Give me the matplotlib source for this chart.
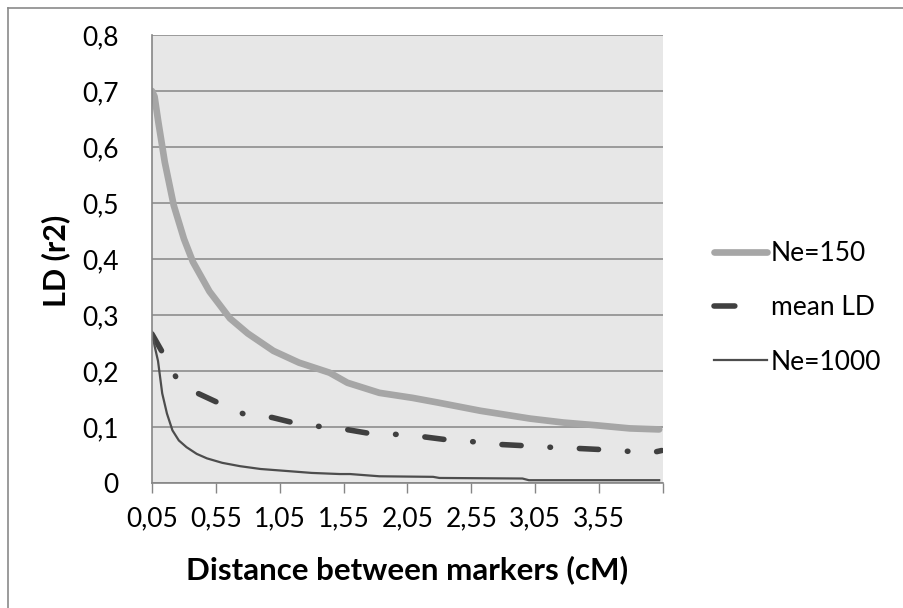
import matplotlib
matplotlib.use('Agg')
import matplotlib.pyplot as plt
from matplotlib.lines import Line2D

plt.rcParams['font.family'] = ['Lato', 'DejaVu Sans']
plt.rcParams['lines.scale_dashes'] = False

# values
dist_150 = [0.05, 0.07, 0.10, 0.15, 0.22, 0.30, 0.37, 0.50, 0.66, 0.80, 1.00,
            1.20, 1.32, 1.44, 1.58, 1.83, 2.09, 2.28, 2.62, 3.01, 3.27, 3.53,
            3.79, 4.02]
ld_150 = [0.70, 0.69, 0.644, 0.573, 0.496, 0.436, 0.395, 0.342, 0.294, 0.267,
          0.236, 0.215, 0.206, 0.197, 0.179, 0.161, 0.152, 0.144, 0.129, 0.115,
          0.108, 0.103, 0.0975, 0.0957]

dist_mean = [0.05, 0.14, 0.245, 0.41, 0.58, 0.78, 0.99, 1.15, 1.36, 1.56, 1.74,
             1.95, 2.16, 2.33, 2.55, 2.76, 2.93, 3.15, 3.36, 3.54, 3.75, 3.96,
             4.04]
ld_mean = [0.266, 0.23, 0.186, 0.16, 0.142, 0.122, 0.117, 0.108, 0.101, 0.096,
           0.089, 0.087, 0.083, 0.078, 0.074, 0.069, 0.067, 0.064, 0.062, 0.060,
           0.057, 0.054, 0.058]

dist_1000 = [0.05, 0.07, 0.097, 0.13, 0.167, 0.21, 0.26, 0.32, 0.40, 0.48, 0.60,
             0.74, 0.90, 1.13, 1.30, 1.52, 1.60, 1.83, 2.25, 2.30, 2.95, 3.00,
             4.02]
ld_1000 = [0.27, 0.245, 0.218, 0.16, 0.124, 0.094, 0.076, 0.064, 0.052, 0.044,
           0.036, 0.030, 0.025, 0.021, 0.018, 0.016, 0.016, 0.012, 0.011, 0.009,
           0.008, 0.005, 0.005]

x_ticks = [0.05, 0.55, 1.05, 1.55, 2.05, 2.55, 3.05, 3.55, 4.05]
x_tick_labels = ['0,05', '0,55', '1,05', '1,55', '2,05', '2,55', '3,05', '3,55', '']
y_ticks = [0, 0.1, 0.2, 0.3, 0.4, 0.5, 0.6, 0.7, 0.8]
y_tick_labels = ['0', '0,1', '0,2', '0,3', '0,4', '0,5', '0,6', '0,7', '0,8']

fig = plt.figure(figsize=(9.04, 6.08), dpi=100)
ax = fig.add_axes([152 / 904, 1 - 483 / 608, 511 / 904, 448 / 608])
ax.set_facecolor('#e7e7e7')

ax.plot(dist_150, ld_150, color='#a6a6a6', lw=4.8,
        solid_capstyle='round', solid_joinstyle='round')
ax.plot(dist_mean, ld_mean, color='#404040', lw=4.0,
        linestyle=(0, (13.8, 20.8, 0.4, 20.8)), dash_capstyle='round')
ax.plot(dist_1000, ld_1000, color='#4d4d4d', lw=1.6)

ax.set_xlim(0.05, 4.05)
ax.set_ylim(0, 0.8)
ax.set_xticks(x_ticks)
ax.set_xticklabels(x_tick_labels)
ax.set_yticks(y_ticks)
ax.set_yticklabels(y_tick_labels)
ax.tick_params(axis='x', length=7, width=1.0, color='#868686', pad=10,
               labelsize=19, direction='out')
ax.tick_params(axis='y', length=0, pad=24, labelsize=19)
ax.yaxis.grid(True, color='#868686', lw=1.1)
ax.set_axisbelow(True)
for s in ['top', 'right']:
    ax.spines[s].set_visible(False)
for s in ['left', 'bottom']:
    ax.spines[s].set_color('#868686')
    ax.spines[s].set_linewidth(1.2)

fig.text(407.5 / 904, 1 - 570 / 608, 'Distance between markers (cM)',
         fontsize=22.5, fontweight='bold', ha='center', va='center')
fig.text(56 / 904, 1 - 261 / 608, 'LD (r2)', fontsize=22, fontweight='bold',
         rotation=90, ha='center', va='center')

# legend handles (mean LD shows just one dash, as in the original)
h150 = Line2D([], [], color='#a6a6a6', lw=4.8, solid_capstyle='round')
hmean = Line2D([], [], color='#404040', lw=4.0, linestyle=(0, (15, 40)),
               dash_capstyle='round')
h1000 = Line2D([], [], color='#4d4d4d', lw=1.6)
fig.legend(handles=[h150, hmean, h1000], labels=['Ne=150', 'mean LD', 'Ne=1000'],
           loc='center left', bbox_to_anchor=(714 / 904, 1 - 308 / 608),
           frameon=False, fontsize=19, borderpad=0, borderaxespad=0,
           handlelength=2.0, handletextpad=0.15, labelspacing=1.1)

# outer chart border (only top and left fall inside the picture)
fig.add_artist(Line2D([7.5 / 904, 1], [1 - 7.5 / 608, 1 - 7.5 / 608],
                      transform=fig.transFigure, color='#8a8a8a', lw=1.2))
fig.add_artist(Line2D([7.5 / 904, 7.5 / 904], [0, 1 - 7.5 / 608],
                      transform=fig.transFigure, color='#8a8a8a', lw=1.2))

fig.savefig('out.png', dpi=100)
